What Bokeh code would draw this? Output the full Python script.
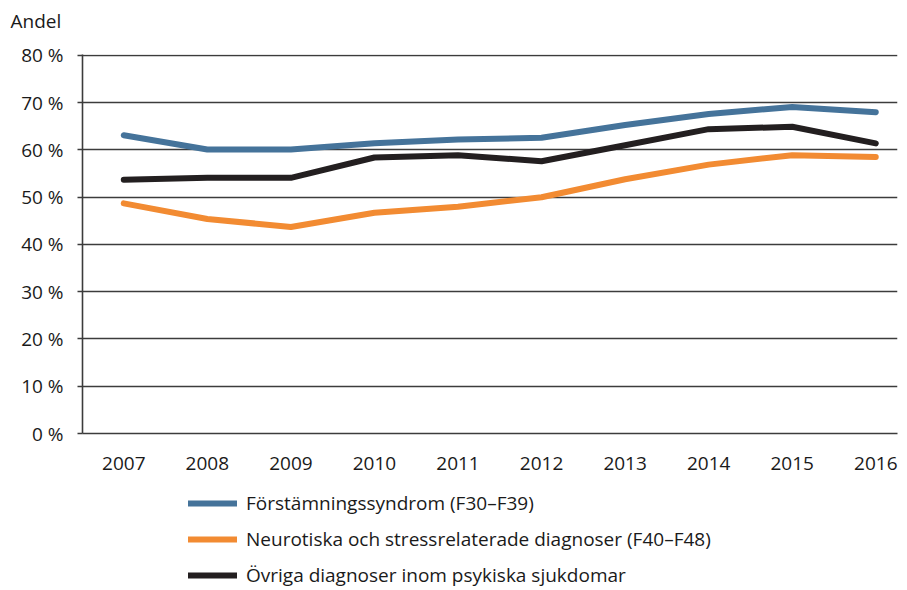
from bokeh.plotting import figure
from bokeh.models import Range1d, FixedTicker, Legend, LegendItem
from bokeh.layouts import column
from bokeh.embed import file_html
from bokeh.resources import INLINE

years = [2007, 2008, 2009, 2010, 2011, 2012, 2013, 2014, 2015, 2016]
forstamning = [63.1, 60.1, 60.1, 61.4, 62.2, 62.6, 65.3, 67.6, 69.1, 68.0]
neurotiska = [48.7, 45.4, 43.7, 46.7, 48.0, 50.0, 53.8, 56.9, 58.9, 58.5]
ovriga = [53.7, 54.1, 54.1, 58.4, 58.9, 57.6, 61.0, 64.4, 64.9, 61.4]

series_names = [
    "Förstämningssyndrom (F30–F39)",
    "Neurotiska och stressrelaterade diagnoser (F40–F48)",
    "Övriga diagnoser inom psykiska sjukdomar",
]
series_values = [forstamning, neurotiska, ovriga]
series_colors = ["#45739A", "#F28B32", "#231F20"]

y_ticks = [0, 10, 20, 30, 40, 50, 60, 70, 80]
y_tick_labels = ["0 %", "10 %", "20 %", "30 %", "40 %", "50 %", "60 %", "70 %", "80 %"]
y_axis_title = "Andel"

FONT = "Open Sans"
FS = "19px"
TXT = "#1a1a1a"
GRID = "#3c3c3c"
W = 900
BL, BR = 82, 3


def bare_figure(height, **kw):
    f = figure(width=W, height=height, output_backend="svg", toolbar_location=None,
               x_axis_location=None, y_axis_location=None,
               min_border_left=BL, min_border_right=BR, min_border_top=0, min_border_bottom=0,
               x_range=Range1d(0, 1), y_range=Range1d(0, 1), **kw)
    f.outline_line_color = None
    f.grid.grid_line_color = None
    f.background_fill_color = "white"
    f.border_fill_color = "white"
    return f


# --- top strip with the axis title ---
p_top = bare_figure(40, title=y_axis_title)
p_top.title.align = "left"
p_top.title.offset = -72
p_top.title.text_font = FONT
p_top.title.text_font_size = FS
p_top.title.text_font_style = "normal"
p_top.title.text_color = TXT

# --- main chart ---
p = figure(
    width=W, height=440,
    output_backend="svg", toolbar_location=None,
    x_range=Range1d(2006.506, 2016.26),
    y_range=Range1d(0, 80.2),
    min_border_left=BL, min_border_right=BR,
    min_border_top=14, min_border_bottom=47,
)
p.outline_line_color = None
p.background_fill_color = "white"
p.border_fill_color = "white"

for vals, col in zip(series_values, series_colors):
    p.line(years, vals, line_color=col, line_width=6, line_cap="round", line_join="round")

p.xaxis.ticker = FixedTicker(ticks=years)
p.xaxis.major_label_overrides = {y: str(y) for y in years}
p.xaxis.major_tick_line_color = None
p.xaxis.major_tick_out = 0
p.xaxis.major_tick_in = 0
p.xaxis.minor_tick_line_color = None
p.xaxis.axis_line_color = GRID
p.xaxis.axis_line_width = 1.6
p.xaxis.major_label_standoff = 23
p.xaxis.major_label_text_font = FONT
p.xaxis.major_label_text_font_size = FS
p.xaxis.major_label_text_color = TXT

p.yaxis.ticker = FixedTicker(ticks=y_ticks)
p.yaxis.major_label_overrides = {t: l for t, l in zip(y_ticks, y_tick_labels)}
p.yaxis.minor_tick_line_color = None
p.yaxis.major_tick_in = 0
p.yaxis.major_tick_out = 5
p.yaxis.major_tick_line_color = GRID
p.yaxis.major_tick_line_width = 1.6
p.yaxis.axis_line_color = GRID
p.yaxis.axis_line_width = 1.6
p.yaxis.major_label_standoff = 14
p.yaxis.major_label_text_font = FONT
p.yaxis.major_label_text_font_size = FS
p.yaxis.major_label_text_color = TXT

p.xgrid.grid_line_color = None
p.ygrid.ticker = FixedTicker(ticks=y_ticks)
p.ygrid.grid_line_color = GRID
p.ygrid.grid_line_width = 1.6

# --- legend strip (series drawn outside its view, only the legend shows) ---
p_leg = bare_figure(108)
leg_renderers = [
    p_leg.line(years, vals, line_color=col, line_width=6, line_cap="round")
    for vals, col in zip(series_values, series_colors)
]
legend = Legend(
    items=[LegendItem(label=n, renderers=[r]) for n, r in zip(series_names, leg_renderers)],
    location=(106, 0),
    orientation="vertical",
    padding=0, margin=0,
    spacing=10,
    glyph_width=49, glyph_height=20,
    label_height=20, label_standoff=9,
    label_text_font=FONT, label_text_font_size=FS, label_text_color=TXT,
    border_line_color=None, background_fill_alpha=0,
)
p_leg.add_layout(legend, "center")

layout = column(p_top, p, p_leg, spacing=0)
open("out.html", "w").write(file_html(layout, INLINE))
